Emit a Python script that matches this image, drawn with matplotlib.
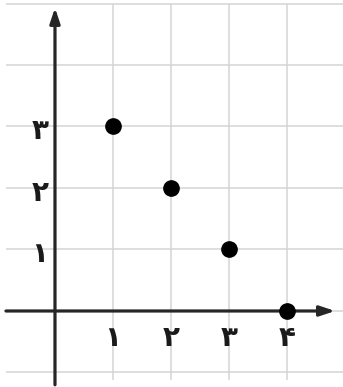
import matplotlib.pyplot as plt

# points of the graph and the digits under the axes
xs = [1, 2, 3, 4]
ys = [3, 2, 1, 0]
x_labels = ['۱', '۲', '۳', '۴']
y_labels = ['۱', '۲', '۳']
y_ticks = [1, 2, 3]
grid_x = [1, 2, 3, 4]
grid_y = [-1, 0, 1, 2, 3, 4, 5]

fig = plt.figure(figsize=(3.43, 3.87), dpi=100)
ax = fig.add_axes([0, 0, 1, 1])
ax.set_xlim(-0.948, 4.966)
ax.set_ylim(-1.236, 5.057)
ax.axis('off')

grid_color = '#d4d4d4'
ax.hlines(grid_y, -0.84, 4.97, color=grid_color, lw=1.1, zorder=1)
ax.vlines(grid_x, -1.13, 5.0, color=grid_color, lw=1.1, zorder=1)

axis_color = '#262626'
ax.annotate('', xy=(4.83, 0), xytext=(-0.845, 0),
            arrowprops=dict(arrowstyle='-|>,head_length=0.9,head_width=0.3',
                            lw=2.3, color=axis_color, shrinkA=0, shrinkB=0),
            zorder=3)
ax.annotate('', xy=(0, 4.93), xytext=(0, -1.2),
            arrowprops=dict(arrowstyle='-|>,head_length=0.9,head_width=0.3',
                            lw=2.3, color=axis_color, shrinkA=0, shrinkB=0),
            zorder=3)

ax.plot(xs, ys, 'o', color='black', markersize=11, zorder=4)

for x, lab in zip(xs, x_labels):
    ax.text(x, -0.44, lab, ha='center', va='center', fontsize=20,
            fontweight='bold', color='#1a1a1a', family=['DejaVu Sans'])
for y, lab in zip(y_ticks, y_labels):
    ax.text(-0.26, y - 0.08, lab, ha='center', va='center', fontsize=20,
            fontweight='bold', color='#1a1a1a', family=['DejaVu Sans'])

fig.savefig('out.png', dpi=100, facecolor='white')
